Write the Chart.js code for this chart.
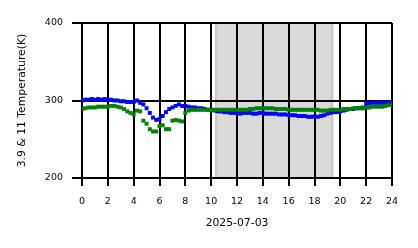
<!DOCTYPE html>
<html lang="en">
<head>
    <meta charset="UTF-8">
    <title>3.9 & 11 Temperature</title>
    <script src="https://cdn.jsdelivr.net/npm/chart.js"></script>
    <style>
        body { margin: 0; background: #fff; }
    </style>
</head>
<body>
    <canvas id="tempChart" width="418" height="248"></canvas>

    <script>
        // hours of 2025-07-03
        const hours = [
            0, 0.25, 0.5, 0.75, 1, 1.25, 1.5, 1.75, 2, 2.25, 2.5, 2.75,
            3, 3.25, 3.5, 3.75, 4, 4.25, 4.5, 4.75, 5, 5.25, 5.5, 5.75,
            6, 6.25, 6.5, 6.75, 7, 7.25, 7.5, 7.75, 8, 8.25, 8.5, 8.75,
            9, 9.25, 9.5, 9.75, 10, 10.25, 10.5, 10.75, 11, 11.25, 11.5, 11.75,
            12, 12.25, 12.5, 12.75, 13, 13.25, 13.5, 13.75, 14, 14.25, 14.5, 14.75,
            15, 15.25, 15.5, 15.75, 16, 16.25, 16.5, 16.75, 17, 17.25, 17.5, 17.75,
            18, 18.25, 18.5, 18.75, 19, 19.25, 19.5, 19.75, 20, 20.25, 20.5, 20.75,
            21, 21.25, 21.5, 21.75, 22, 22.25, 22.5, 22.75, 23, 23.25, 23.5, 23.75, 24
        ];
        // 3.9 um brightness temperature (K)
        const temp39 = [
            300, 301, 301, 302, 301, 302, 301, 302, 301, 301, 300, 300,
            299, 299, 298, 298, 298, 300, 297, 295, 290, 284, 278, 275,
            276, 280, 285, 289, 291, 293, 295, 293, 293, 292, 291, 291,
            290, 290, 289, 288, 288, 287, 286, 286, 285, 285, 284, 284,
            284, 283, 284, 284, 284, 283, 283, 284, 284, 283, 283, 283,
            283, 282, 282, 282, 281, 281, 281, 280, 280, 280, 279, 279,
            279, 279, 280, 281, 283, 284, 285, 285, 286, 287, 288, 289,
            289, 290, 290, 291, 296, 296, 297, 297, 297, 297, 297, 297, 297
        ];
        // 11 um brightness temperature (K)
        const temp11 = [
            289, 290, 291, 291, 291, 292, 292, 292, 292, 293, 293, 292,
            291, 289, 286, 284, 282, 287, 286, 274, 270, 263, 260, 260,
            267, 268, 263, 263, 274, 275, 274, 273, 284, 287, 288, 288,
            288, 288, 288, 288, 288, 288, 288, 288, 288, 288, 288, 288,
            288, 288, 288, 288, 289, 289, 290, 290, 290, 290, 290, 290,
            289, 289, 289, 289, 288, 288, 288, 288, 288, 288, 288, 288,
            288, 288, 287, 287, 287, 288, 288, 288, 288, 289, 289, 289,
            290, 290, 290, 290, 291, 291, 292, 292, 292, 292, 293, 294, 294
        ];
        // night period shading (hours)
        const nightStart = 10.3;
        const nightEnd = 19.45;

        const toPoints = vals => vals.map((v, i) => ({ x: hours[i], y: v }));

        const nightShade = {
            id: 'nightShade',
            beforeDraw(chart) {
                const { ctx, chartArea, scales } = chart;
                const x0 = scales.x.getPixelForValue(nightStart);
                const x1 = scales.x.getPixelForValue(nightEnd);
                ctx.save();
                ctx.fillStyle = '#d9d9d9';
                ctx.fillRect(x0, chartArea.top, x1 - x0, chartArea.bottom - chartArea.top);
                ctx.strokeStyle = '#c6c6c6';
                ctx.lineWidth = 2;
                ctx.beginPath();
                ctx.moveTo(x0 + 1, chartArea.top);
                ctx.lineTo(x0 + 1, chartArea.bottom);
                ctx.moveTo(x1 - 1, chartArea.top);
                ctx.lineTo(x1 - 1, chartArea.bottom);
                ctx.stroke();
                ctx.restore();
            }
        };

        const tickFont = { family: 'DejaVu Sans', size: 9.5 };
        const titleFont = { family: 'DejaVu Sans', size: 10.8 };

        const ctx = document.getElementById('tempChart').getContext('2d');
        new Chart(ctx, {
            type: 'scatter',
            data: {
                datasets: [{
                    label: '11',
                    data: toPoints(temp11),
                    backgroundColor: '#008000',
                    pointStyle: 'rect',
                    pointRadius: 2.8,
                    pointBorderWidth: 0,
                    order: 0
                }, {
                    label: '3.9',
                    data: toPoints(temp39),
                    backgroundColor: '#0000ff',
                    pointStyle: 'rect',
                    pointRadius: 2.8,
                    pointBorderWidth: 0,
                    order: 1
                }]
            },
            options: {
                responsive: false,
                animation: false,
                layout: { padding: { top: 23, right: 26, left: 0, bottom: 0 } },
                plugins: {
                    legend: { display: false },
                    tooltip: { enabled: false }
                },
                scales: {
                    x: {
                        type: 'linear',
                        min: 0,
                        max: 24,
                        afterFit: s => { s.height = 70; },
                        ticks: { stepSize: 2, color: '#000', font: tickFont, padding: 10, maxRotation: 0 },
                        grid: { color: '#000', lineWidth: 2, tickLength: 8 },
                        border: { display: false },
                        title: { display: true, text: '2025-07-03', color: '#000', font: titleFont, padding: { top: 4, bottom: 18 } }
                    },
                    y: {
                        min: 200,
                        max: 400,
                        afterFit: s => { s.width = 82; },
                        ticks: { stepSize: 100, color: '#000', font: tickFont, padding: 9 },
                        grid: { color: '#000', lineWidth: 2, tickLength: 10 },
                        border: { display: false },
                        title: { display: true, text: '3.9 & 11 Temperature(K)', color: '#000', font: titleFont, padding: { top: 16, bottom: 0 } }
                    }
                }
            },
            plugins: [nightShade]
        });
    </script>
</body>
</html>
